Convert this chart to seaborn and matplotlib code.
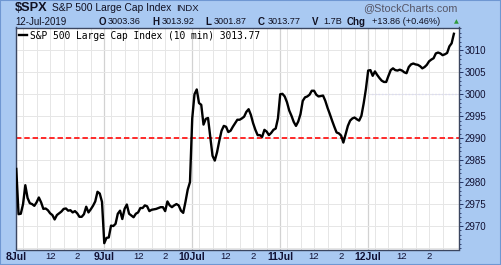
import numpy as np
import pandas as pd
import matplotlib
matplotlib.use("Agg")
import matplotlib.pyplot as plt
import seaborn as sns

# ---- data (10-minute closes, 39 bars per session) ----
days = ["8Jul", "9Jul", "10Jul", "11Jul", "12Jul"]
jul08 = [2983.0, 2972.7, 2972.8, 2975.0, 2979.3, 2976.4, 2975.2, 2975.0, 2974.6, 2975.4,
         2976.5, 2975.4, 2973.9, 2974.0, 2973.6, 2972.9, 2972.5, 2971.5, 2972.5, 2972.9,
         2973.3, 2973.9, 2974.0, 2973.5, 2973.6, 2973.1, 2973.4, 2972.9, 2972.1, 2972.1,
         2972.7, 2974.4, 2973.1, 2973.8, 2974.6, 2975.6, 2977.8, 2977.4, 2975.5]
jul09 = [2966.1, 2967.3, 2967.4, 2970.1, 2970.0, 2970.5, 2972.8, 2973.5, 2971.6, 2973.9,
         2974.9, 2972.8, 2972.4, 2972.0, 2972.8, 2973.1, 2974.1, 2974.1, 2974.7, 2974.5,
         2973.4, 2973.7, 2973.8, 2973.9, 2974.1, 2974.3, 2974.3, 2973.4, 2975.6, 2974.7,
         2974.3, 2974.7, 2975.0, 2974.7, 2973.5, 2973.0, 2975.5, 2978.3, 2980.0]
jul10 = [2994.5, 3000.0, 3001.1, 2998.0, 2997.6, 2993.1, 2994.4, 2994.6, 2990.2, 2986.0,
         2984.9, 2986.8, 2989.4, 2991.7, 2992.8, 2992.6, 2991.4, 2991.7, 2992.6, 2993.4,
         2994.2, 2994.2, 2994.5, 2994.9, 2996.0, 2996.6, 2995.3, 2993.4, 2991.9, 2990.7,
         2990.7, 2990.3, 2991.9, 2991.5, 2990.7, 2991.2, 2991.9, 2992.2, 2994.5]
jul11 = [3000.0, 3000.1, 2999.5, 2998.2, 2996.3, 2995.1, 2993.7, 2992.8, 2993.8, 2995.5,
         2998.5, 2999.3, 2999.5, 2999.9, 3000.8, 3000.8, 2999.9, 2999.5, 2999.6, 2999.7,
         2998.5, 2996.9, 2995.5, 2994.0, 2992.6, 2991.3, 2991.1, 2990.6, 2989.0, 2990.9,
         2992.8, 2994.0, 2994.5, 2994.7, 2994.3, 2994.0, 2995.1, 2997.9, 3001.2]
jul12 = [3005.4, 3005.5, 3004.2, 3005.2, 3004.4, 3003.7, 3003.1, 3002.8, 3002.8, 3004.2,
         3005.5, 3005.9, 3005.5, 3005.4, 3005.6, 3005.4, 3005.0, 3004.8, 3006.2, 3006.8,
         3007.0, 3006.8, 3006.7, 3006.4, 3005.9, 3006.2, 3006.7, 3007.5, 3007.9, 3008.2,
         3009.3, 3009.5, 3009.3, 3008.9, 3009.1, 3009.4, 3010.9, 3011.6, 3013.77]
sessions = [jul08, jul09, jul10, jul11, jul12]
ref_level = 2990
prev_level = 3000
y_ticks = [2970, 2975, 2980, 2985, 2990, 2995, 3000, 3005, 3010]
intraday_labels = {15: "12", 27: "2"}      # bar offsets within a session
hour_bars = [3, 9, 15, 21, 27, 33]

BARS = 39
values = [v for s in sessions for v in s]
df = pd.DataFrame({"bar": np.arange(len(values)), "close": values})

# ---- figure ----
W, H = 501, 265
bg = "#a9c9f2"
fig = plt.figure(figsize=(W / 100, H / 100), dpi=100, facecolor=bg)
L, R, T, B = 15.5, 459.3, 27.5, 249.5
ax = fig.add_axes([L / W, 1 - B / H, (R - L) / W, (B - T) / H])
ax.set_facecolor("white")

# grid
for d in range(len(days)):
    ax.axvline(d * BARS, color="#d2d2d2", lw=0.9, zorder=0)
    for hb in hour_bars:
        ax.axvline(d * BARS + hb, color="#e6e6e6", lw=0.7, zorder=0)
for yv in range(2965, 3016, 5):
    ax.axhline(yv, color="#e6e6e6", lw=0.7, zorder=0)

ax.axhline(ref_level, color="#ff1a1a", lw=1.3, ls=(0, (3, 1.6)), zorder=2)
ax.hlines(prev_level, 4 * BARS, 4 * BARS + 45, color="#dcdcf0", lw=1.0,
          linestyles=(0, (1.2, 1.2)), zorder=1)

sns.lineplot(data=df, x="bar", y="close", color="black", lw=1.7, ax=ax,
             label="S&P 500 Large Cap Index (10 min) 3013.77", zorder=3)

ax.set_xlim(-0.35, 196.4)
ax.set_ylim(2964.66, 3015.2)
ax.set_xlabel("")
ax.set_ylabel("")

# axes / ticks
ax.yaxis.tick_right()
ax.set_yticks(y_ticks)
ax.set_yticklabels([str(v) for v in y_ticks], fontsize=7.0, family="Liberation Sans",
                   color="#111133")
ax.set_yticks(np.arange(2965, 3016, 1), minor=True)
ax.tick_params(axis="y", which="major", length=3, width=0.7, color="#223366", pad=1)
ax.tick_params(axis="y", which="minor", length=1.5, width=0.6, color="#223366")

xt, xl = [], []
for d, name in enumerate(days):
    xt.append(d * BARS); xl.append(name)
    for off, lab in intraday_labels.items():
        xt.append(d * BARS + off); xl.append(lab)
ax.set_xticks(xt)
ax.set_xticklabels(xl, fontsize=6.8, family="Liberation Sans", color="#111133")
for t in ax.get_xticklabels():
    if "Jul" in t.get_text():
        t.set_fontweight("bold")
        t.set_fontsize(7.5)
ax.tick_params(axis="x", length=0, pad=2.0)

for s in ax.spines.values():
    s.set_color("#3b4660")
    s.set_linewidth(1.0)

leg = ax.legend(loc="upper left", frameon=False, handlelength=0.8, handletextpad=0.35,
                borderaxespad=0.1, borderpad=0.25,
                prop={"family": "DejaVu Sans Mono", "size": 6.9})

# ---- header text ----
def px(x, y):
    return x / W, 1 - y / H

hdr = dict(family="Liberation Sans", color="#111122", va="center")
fig.text(*px(14.5, 8), "$SPX", fontsize=9.2, fontweight="bold", **hdr)
fig.text(*px(52, 8.3), "S&P 500 Large Cap Index", fontsize=7.4, **hdr)
fig.text(*px(176, 8.5), "INDX", fontsize=6.8, **hdr)
fig.text(*px(458, 8.5), "@StockCharts.com", fontsize=7.8, ha="right",
         family="Liberation Sans", color="#555566", va="center")

row2 = 22
fig.text(*px(15.5, row2), "12-Jul-2019", fontsize=7.0, **hdr)
segs = [(99, "O", True), (108, "3003.36", False), (152, "H", True), (162, "3013.92", False),
        (205, "L", True), (214, "3001.87", False), (258, "C", True), (268, "3013.77", False),
        (312, "V", True), (323, "1.7B", False), (347, "Chg", True),
        (372, "+13.86 (+0.46%)", False)]
for x, s, b in segs:
    fig.text(*px(x, row2), s, fontsize=6.6 if not b else 7.0,
             fontweight="bold" if b else "normal", **hdr)
fig.text(*px(456.5, row2), "\u25b2", fontsize=4.5, color="#2e9a3a", ha="center", va="center",
         family="DejaVu Sans")

# outer border
fig.patches.append(plt.Rectangle((0, 0), 1, 1, transform=fig.transFigure, fill=False,
                                 edgecolor="#6f97d2", lw=1.5))

fig.savefig("out.png", dpi=100, facecolor=bg)
